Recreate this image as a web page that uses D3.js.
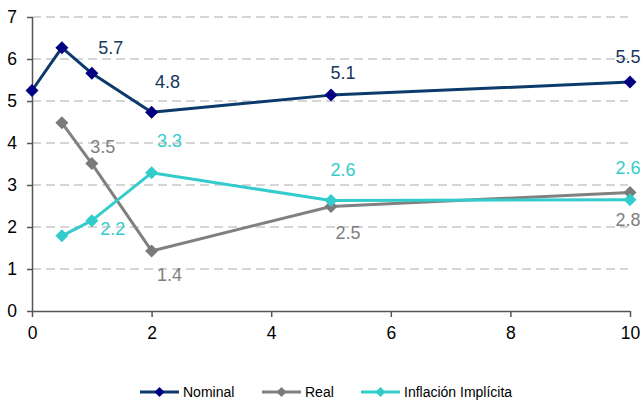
<!DOCTYPE html>
<html><head><meta charset="utf-8">
<script src="https://cdn.jsdelivr.net/npm/d3@7"></script>
<style>
body{margin:0;background:#fff;}
svg{display:block;font-family:Arial,"Liberation Sans",sans-serif;}
</style></head>
<body>
<svg id="c" width="642" height="403"></svg>
<script>
// Data
const nominalX = [0, 0.5, 1, 2, 5, 10];
const nominalY = [5.25, 6.27, 5.66, 4.73, 5.14, 5.45];
const realX = [0.5, 1, 2, 5, 10];
const realY = [4.48, 3.51, 1.43, 2.49, 2.82];
const inflX = [0.5, 1, 2, 5, 10];
const inflY = [1.79, 2.15, 3.29, 2.63, 2.65];
const labelX = [1, 2, 5, 10];
const nominalLabels = ["5.7", "4.8", "5.1", "5.5"];
const realLabels = ["3.5", "1.4", "2.5", "2.8"];
const inflLabels = ["2.2", "3.3", "2.6", "2.6"];
const xTicks = [0, 2, 4, 6, 8, 10];
const yTicks = [0, 1, 2, 3, 4, 5, 6, 7];
const seriesNames = ["Nominal", "Real", "Inflación Implícita"];

// Styles / label offsets (pixels)
const nominalOff = [[19,-26],[16,-31],[12,-23],[-2,-26]];
const realOff = [[11,-17],[18,24],[17,26],[-2,27]];
const inflOff = [[21,8],[18,-32],[12,-31],[-2,-32]];

const svg = d3.select("#c");
const x = d3.scaleLinear().domain([0,10]).range([32,630]);
const y = d3.scaleLinear().domain([0,7]).range([311,17]);

// gridlines
svg.append("g").selectAll("line").data(yTicks.filter(d=>d>0)).join("line")
  .attr("x1",32).attr("x2",628).attr("y1",d=>y(d)).attr("y2",d=>y(d))
  .attr("stroke","#c8c8c8").attr("stroke-width",1.3).attr("stroke-dasharray","9,5");

// axes
const axisColor = "#555";
const yAxis = svg.append("g").attr("transform","translate(32,0)")
  .call(d3.axisLeft(y).tickValues(yTicks).tickSize(5).tickPadding(10).tickFormat(d3.format("d")));
const xAxis = svg.append("g").attr("transform","translate(0,311)")
  .call(d3.axisBottom(x).tickValues(xTicks).tickSize(6).tickPadding(10).tickFormat(d3.format("d")));
[yAxis,xAxis].forEach(a=>{
  a.select(".domain").attr("stroke",axisColor).attr("stroke-width",1.5);
  a.selectAll(".tick line").attr("stroke",axisColor).attr("stroke-width",1.5);
  a.selectAll("text").attr("font-size",17.5).attr("fill","#000").attr("font-family","Arial, 'Liberation Sans', sans-serif");
});
xAxis.select(".domain").attr("d","M32,0.5H630");
yAxis.select(".domain").attr("d","M0.5,311V17");

const diamond = r => `M0,${-r}L${r},0L0,${r}L${-r},0Z`;

const series = [
  {xs:nominalX, ys:nominalY, line:"#0b3a6b", marker:"#000080", labels:nominalLabels, off:nominalOff, lc:"#17375e"},
  {xs:realX, ys:realY, line:"#808080", marker:"#7a7a7a", labels:realLabels, off:realOff, lc:"#7f7f7f"},
  {xs:inflX, ys:inflY, line:"#33cccc", marker:"#33cccc", labels:inflLabels, off:inflOff, lc:"#33cccc"}
];

const lineGen = d3.line().x(d=>x(d[0])).y(d=>y(d[1]));
series.forEach(s=>{
  const pts = s.xs.map((v,i)=>[v,s.ys[i]]);
  svg.append("path").datum(pts).attr("d",lineGen)
    .attr("fill","none").attr("stroke",s.line).attr("stroke-width",3).attr("stroke-linejoin","round");
});
series.forEach(s=>{
  const pts = s.xs.map((v,i)=>[v,s.ys[i]]);
  svg.append("g").selectAll("path").data(pts).join("path")
    .attr("d",diamond(6.5)).attr("transform",d=>`translate(${x(d[0])},${y(d[1])})`)
    .attr("fill",s.marker);
});
series.forEach(s=>{
  svg.append("g").selectAll("text").data(labelX).join("text")
    .attr("x",(d,i)=>x(d)+s.off[i][0])
    .attr("y",(d,i)=>y(s.ys[s.xs.indexOf(d)])+s.off[i][1])
    .attr("text-anchor","middle").attr("dy","0.36em")
    .attr("font-size",18).attr("fill",s.lc)
    .text((d,i)=>s.labels[i]);
});

// legend
const legX = [140, 262, 361];
const leg = svg.append("g");
series.forEach((s,i)=>{
  const g = leg.append("g").attr("transform",`translate(${legX[i]},392)`);
  g.append("line").attr("x1",0).attr("x2",39).attr("y1",0).attr("y2",0)
    .attr("stroke",s.line).attr("stroke-width",3);
  g.append("path").attr("d",diamond(5)).attr("transform","translate(19.5,0)").attr("fill",s.marker);
  g.append("text").attr("x",43).attr("y",0).attr("dy","0.36em")
    .attr("font-size",14).attr("fill","#000").text(seriesNames[i]);
});
</script>
</body></html>
